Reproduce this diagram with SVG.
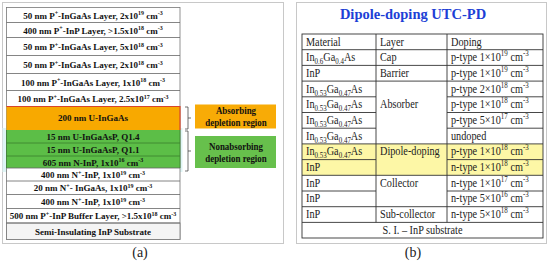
<svg xmlns="http://www.w3.org/2000/svg" width="550" height="262" viewBox="0 0 550 262">
<style>
.frame{fill:#fff;stroke:#c8c8c8;stroke-width:1}
.row{stroke:#666;stroke-width:0.8}
.lt{font-family:"Liberation Serif","Times New Roman",serif;font-weight:bold;font-size:9px;fill:#111;text-anchor:middle}
.lt .s{font-size:6px}
.lab{font-family:"Liberation Serif","Times New Roman",serif;font-weight:bold;font-size:10.5px;fill:#111;text-anchor:middle}
.tt{font-family:"Liberation Serif","Times New Roman",serif;font-size:12.5px;fill:#222}
.tt .s{font-size:8.5px}
.tl{stroke:#333;stroke-width:0.9;fill:none}
.cap{font-family:"Liberation Serif","Times New Roman",serif;font-size:14px;fill:#222;text-anchor:middle}
.br{stroke:#333;stroke-width:0.7;fill:none}
</style>
<rect width="550" height="262" fill="#fff"/>
<g id="panel-a">
<rect class="frame" x="2.5" y="2.5" width="281" height="241"/>
<rect x="2.5" y="128" width="180" height="44" fill="#dff5f5"/>
<g id="stack">
<rect x="6.5" y="7.5" width="173.5" height="232" fill="#fff" stroke="#777" stroke-width="0.8"/>
<rect x="6.5" y="223" width="173.5" height="16.5" fill="#f4f4f4" stroke="#777" stroke-width="0.8"/>
<rect x="6.5" y="106" width="173.5" height="24" fill="#f8a900"/>
<path d="M6.5,106.5 H180 V130" stroke="#d9452a" stroke-width="1.2" fill="none"/>
<rect x="6.5" y="130" width="173.5" height="38" fill="#5cbe47"/>
<g class="row">
<line x1="6.5" y1="22.5" x2="180" y2="22.5"/>
<line x1="6.5" y1="37.5" x2="180" y2="37.5"/>
<line x1="6.5" y1="55.5" x2="180" y2="55.5"/>
<line x1="6.5" y1="73.5" x2="180" y2="73.5"/>
<line x1="6.5" y1="90.5" x2="180" y2="90.5"/>
<line x1="6.5" y1="143" x2="180" y2="143" stroke="#3a7d2e"/>
<line x1="6.5" y1="156" x2="180" y2="156" stroke="#3a7d2e"/>
<line x1="6.5" y1="168" x2="180" y2="168"/>
<line x1="6.5" y1="181" x2="180" y2="181"/>
<line x1="6.5" y1="194.5" x2="180" y2="194.5"/>
<line x1="6.5" y1="208.5" x2="180" y2="208.5"/>
<line x1="6.5" y1="223" x2="180" y2="223"/>
<line x1="6.5" y1="130" x2="6.5" y2="168" stroke="#3a7d2e"/>
<line x1="180" y1="130" x2="180" y2="168" stroke="#3a7d2e"/>
</g>
<text class="lt" x="93" y="18.5">50 nm P<tspan class="s" dy="-3.5">+</tspan><tspan dy="3.5">-InGaAs Layer, 2x10</tspan><tspan class="s" dy="-3.5">19</tspan><tspan dy="3.5"> cm</tspan><tspan class="s" dy="-3.5">-3</tspan></text>
<text class="lt" x="93" y="33.5">400 nm P<tspan class="s" dy="-3.5">+</tspan><tspan dy="3.5">-InP Layer, &gt;1.5x10</tspan><tspan class="s" dy="-3.5">18</tspan><tspan dy="3.5"> cm</tspan><tspan class="s" dy="-3.5">-3</tspan></text>
<text class="lt" x="93" y="50">50 nm P<tspan class="s" dy="-3.5">+</tspan><tspan dy="3.5">-InGaAs Layer, 5x10</tspan><tspan class="s" dy="-3.5">18</tspan><tspan dy="3.5"> cm</tspan><tspan class="s" dy="-3.5">-3</tspan></text>
<text class="lt" x="93" y="68">50 nm P<tspan class="s" dy="-3.5">+</tspan><tspan dy="3.5">-InGaAs Layer, 2x10</tspan><tspan class="s" dy="-3.5">18</tspan><tspan dy="3.5"> cm</tspan><tspan class="s" dy="-3.5">-3</tspan></text>
<text class="lt" x="93" y="85.5">100 nm P<tspan class="s" dy="-3.5">+</tspan><tspan dy="3.5">-InGaAs Layer, 1x10</tspan><tspan class="s" dy="-3.5">18</tspan><tspan dy="3.5"> cm</tspan><tspan class="s" dy="-3.5">-3</tspan></text>
<text class="lt" x="93" y="102">100 nm P<tspan class="s" dy="-3.5">+</tspan><tspan dy="3.5">-InGaAs Layer, 2.5x10</tspan><tspan class="s" dy="-3.5">17</tspan><tspan dy="3.5"> cm</tspan><tspan class="s" dy="-3.5">-3</tspan></text>
<text class="lt" x="93" y="121">200 nm U-InGaAs</text>
<text class="lt" x="93" y="140">15 nm U-InGaAsP, Q1.4</text>
<text class="lt" x="93" y="153">15 nm U-InGaAsP, Q1.1</text>
<text class="lt" x="93" y="165.5">605 nm N-InP, 1x10<tspan class="s" dy="-3.5">16</tspan><tspan dy="3.5"> cm</tspan><tspan class="s" dy="-3.5">-3</tspan></text>
<text class="lt" x="93" y="178">400 nm N<tspan class="s" dy="-3.5">+</tspan><tspan dy="3.5">-InP, 1x10</tspan><tspan class="s" dy="-3.5">19</tspan><tspan dy="3.5"> cm</tspan><tspan class="s" dy="-3.5">-3</tspan></text>
<text class="lt" x="93" y="191">20 nm N<tspan class="s" dy="-3.5">+</tspan><tspan dy="3.5">- InGaAs, 1x10</tspan><tspan class="s" dy="-3.5">19</tspan><tspan dy="3.5"> cm</tspan><tspan class="s" dy="-3.5">-3</tspan></text>
<text class="lt" x="93" y="205">400 nm N<tspan class="s" dy="-3.5">+</tspan><tspan dy="3.5">-InP, 1x10</tspan><tspan class="s" dy="-3.5">19</tspan><tspan dy="3.5"> cm</tspan><tspan class="s" dy="-3.5">-3</tspan></text>
<text class="lt" x="93" y="219">500 nm P<tspan class="s" dy="-3.5">+</tspan><tspan dy="3.5">-InP Buffer Layer,  &gt;1.5x10</tspan><tspan class="s" dy="-3.5">18</tspan><tspan dy="3.5"> cm</tspan><tspan class="s" dy="-3.5">-3</tspan></text>
<text class="lt" x="93" y="234.5">Semi-Insulating InP Substrate</text>
</g>
<g id="brackets">
<path class="br" d="M185,107 H188 V129 H185 M188,118 H191"/>
<path class="br" d="M185,131 H188 V171 H185 M188,151 H191"/>
</g>
<g id="absorbing-label">
<rect x="195" y="104.5" width="81" height="24" fill="#f8ab06"/>
<g class="lab" transform="matrix(0.85,0,0,1,236,0)">
<text x="0" y="114.5">Absorbing</text>
<text x="0" y="126">depletion region</text>
</g>
</g>
<g id="nonabsorbing-label">
<rect x="195" y="136" width="81" height="32" fill="#67c04c"/>
<g class="lab" transform="matrix(0.85,0,0,1,236,0)">
<text x="0" y="150">Nonabsorbing</text>
<text x="0" y="162.5">depletion region</text>
</g>
</g>
</g>
<text class="cap" x="140" y="257">(a)</text>
<g id="panel-b">
<rect class="frame" x="296.5" y="2.5" width="250" height="241"/>
<text x="413" y="19" font-family="'Liberation Serif','Times New Roman',serif" font-weight="bold" font-size="14.5" fill="#1d3fd6" text-anchor="middle">Dipole-doping UTC-PD</text>
<g id="table">
<rect x="302" y="143.9" width="241" height="31.4" fill="#fdf7a6"/>
<rect class="tl" x="302" y="34" width="241" height="204"/>
<line class="tl" x1="376" y1="34" x2="376" y2="222.4"/>
<line class="tl" x1="447" y1="34" x2="447" y2="222.4"/>
<line class="tl" x1="302" y1="49.7" x2="543" y2="49.7"/>
<line class="tl" x1="302" y1="65.4" x2="543" y2="65.4"/>
<line class="tl" x1="302" y1="81.1" x2="543" y2="81.1"/>
<line class="tl" x1="302" y1="96.8" x2="376" y2="96.8"/>
<line class="tl" x1="447" y1="96.8" x2="543" y2="96.8"/>
<line class="tl" x1="302" y1="112.5" x2="376" y2="112.5"/>
<line class="tl" x1="447" y1="112.5" x2="543" y2="112.5"/>
<line class="tl" x1="302" y1="128.2" x2="376" y2="128.2"/>
<line class="tl" x1="447" y1="128.2" x2="543" y2="128.2"/>
<line class="tl" x1="302" y1="143.9" x2="543" y2="143.9"/>
<line class="tl" x1="302" y1="159.6" x2="376" y2="159.6"/>
<line class="tl" x1="447" y1="159.6" x2="543" y2="159.6"/>
<line class="tl" x1="302" y1="175.3" x2="543" y2="175.3"/>
<line class="tl" x1="302" y1="191" x2="376" y2="191"/>
<line class="tl" x1="447" y1="191" x2="543" y2="191"/>
<line class="tl" x1="302" y1="206.7" x2="543" y2="206.7"/>
<line class="tl" x1="302" y1="222.4" x2="543" y2="222.4"/>
<g class="tt" transform="matrix(0.82,0,0,1,306,0)">
<text x="0" y="46">Material</text>
<text x="0" y="61.5">In<tspan class="s" dy="3">0.6</tspan><tspan dy="-3">Ga</tspan><tspan class="s" dy="3">0.4</tspan><tspan dy="-3">As</tspan></text>
<text x="0" y="77">InP</text>
<text x="0" y="93">In<tspan class="s" dy="3">0.53</tspan><tspan dy="-3">Ga</tspan><tspan class="s" dy="3">0.47</tspan><tspan dy="-3">As</tspan></text>
<text x="0" y="108.5">In<tspan class="s" dy="3">0.53</tspan><tspan dy="-3">Ga</tspan><tspan class="s" dy="3">0.47</tspan><tspan dy="-3">As</tspan></text>
<text x="0" y="124">In<tspan class="s" dy="3">0.53</tspan><tspan dy="-3">Ga</tspan><tspan class="s" dy="3">0.47</tspan><tspan dy="-3">As</tspan></text>
<text x="0" y="140">In<tspan class="s" dy="3">0.53</tspan><tspan dy="-3">Ga</tspan><tspan class="s" dy="3">0.47</tspan><tspan dy="-3">As</tspan></text>
<text x="0" y="155.5">In<tspan class="s" dy="3">0.53</tspan><tspan dy="-3">Ga</tspan><tspan class="s" dy="3">0.47</tspan><tspan dy="-3">As</tspan></text>
<text x="0" y="171">InP</text>
<text x="0" y="187">InP</text>
<text x="0" y="202.5">InP</text>
<text x="0" y="218">InP</text>
</g>
<g class="tt" transform="matrix(0.82,0,0,1,380,0)">
<text x="0" y="46">Layer</text>
<text x="0" y="61.5">Cap</text>
<text x="0" y="77">Barrier</text>
<text x="0" y="108.5">Absorber</text>
<text x="0" y="155.5">Dipole-doping</text>
<text x="0" y="187">Collector</text>
<text x="0" y="218">Sub-collector</text>
</g>
<g class="tt" transform="matrix(0.82,0,0,1,451,0)">
<text x="0" y="46">Doping</text>
<text x="0" y="61.5">p-type 1×10<tspan class="s" dy="-5">19</tspan><tspan dy="5">  cm</tspan><tspan class="s" dy="-5">-3</tspan></text>
<text x="0" y="77">p-type 1×10<tspan class="s" dy="-5">19</tspan><tspan dy="5">  cm</tspan><tspan class="s" dy="-5">-3</tspan></text>
<text x="0" y="93">p-type 2×10<tspan class="s" dy="-5">18</tspan><tspan dy="5">  cm</tspan><tspan class="s" dy="-5">-3</tspan></text>
<text x="0" y="108.5">p-type 1×10<tspan class="s" dy="-5">18</tspan><tspan dy="5">  cm</tspan><tspan class="s" dy="-5">-3</tspan></text>
<text x="0" y="124">p-type 5×10<tspan class="s" dy="-5">17</tspan><tspan dy="5">  cm</tspan><tspan class="s" dy="-5">-3</tspan></text>
<text x="0" y="140">undoped</text>
<text x="0" y="155.5">p-type 1×10<tspan class="s" dy="-5">18</tspan><tspan dy="5">  cm</tspan><tspan class="s" dy="-5">-3</tspan></text>
<text x="0" y="171">n-type 1×10<tspan class="s" dy="-5">18</tspan><tspan dy="5">  cm</tspan><tspan class="s" dy="-5">-3</tspan></text>
<text x="0" y="187">n-type 1×10<tspan class="s" dy="-5">17</tspan><tspan dy="5">  cm</tspan><tspan class="s" dy="-5">-3</tspan></text>
<text x="0" y="202.5">n-type 5×10<tspan class="s" dy="-5">16</tspan><tspan dy="5">  cm</tspan><tspan class="s" dy="-5">-3</tspan></text>
<text x="0" y="218">n-type 5×10<tspan class="s" dy="-5">18</tspan><tspan dy="5">  cm</tspan><tspan class="s" dy="-5">-3</tspan></text>
</g>
<g class="tt" transform="matrix(0.82,0,0,1,422.5,0)">
<text x="0" y="234" text-anchor="middle">S. I. – InP substrate</text>
</g>
</g>
</g>
<text class="cap" x="413" y="257">(b)</text>
</svg>
